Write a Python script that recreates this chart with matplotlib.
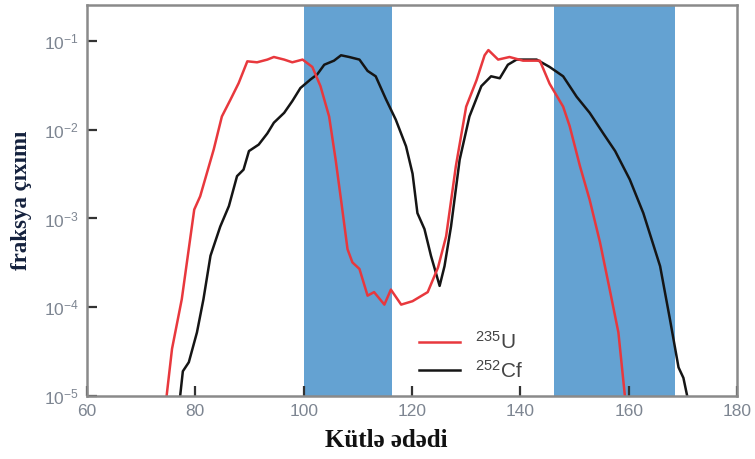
import matplotlib
matplotlib.use("Agg")
import matplotlib.pyplot as plt
from matplotlib.ticker import LogLocator, NullLocator

plt.rcParams["font.family"] = ["Liberation Sans", "DejaVu Sans"]
plt.rcParams["mathtext.fontset"] = "custom"
plt.rcParams["mathtext.rm"] = "Liberation Sans"
plt.rcParams["mathtext.it"] = "Liberation Sans:italic"

# fission fragment yields (mass number, fractional yield)
u235_mass = [74.7, 75.7, 77.5, 79.8, 80.9, 83.4, 84.9, 86.5, 88.0, 89.6,
             91.4, 93.3, 94.5, 96.4, 97.9, 99.8, 101.6, 103.1, 104.7, 105.9,
             106.9, 108.1, 109.0, 110.3, 111.8, 113.0, 114.9, 116.1, 118.0, 120.1,
             122.9, 124.8, 126.3, 128.1, 130.0, 131.9, 133.4, 134.1, 135.9, 138.0,
             140.5, 143.6, 145.4, 147.9, 149.1, 151.0, 152.8, 154.7, 156.5, 158.1,
             159.3]
u235_yield = [1.0e-5, 3.4e-5, 1.23e-4, 1.26e-3, 1.78e-3, 6.0e-3, 1.41e-2, 2.19e-2, 3.35e-2, 5.9e-2,
              5.75e-2, 6.17e-2, 6.6e-2, 6.17e-2, 5.75e-2, 6.17e-2, 5.1e-2, 3.1e-2, 1.41e-2, 4.6e-3,
              1.62e-3, 4.5e-4, 3.2e-4, 2.7e-4, 1.35e-4, 1.48e-4, 1.07e-4, 1.58e-4, 1.07e-4, 1.17e-4,
              1.48e-4, 2.8e-4, 6.3e-4, 3.9e-3, 1.82e-2, 3.6e-2, 6.9e-2, 7.9e-2, 6.17e-2, 6.6e-2,
              6.0e-2, 6.0e-2, 3.3e-2, 1.82e-2, 1.1e-2, 3.9e-3, 1.62e-3, 5.4e-4, 1.58e-4, 5.2e-5,
              1.0e-5]

cf252_mass = [77.2, 77.7, 78.8, 80.3, 81.5, 82.8, 84.6, 86.2, 87.7, 88.9,
              89.9, 91.7, 93.3, 94.5, 96.4, 97.9, 99.4, 101.3, 102.5, 103.8,
              105.6, 106.9, 108.4, 110.3, 111.8, 113.3, 115.2, 117.0, 118.9, 120.1,
              121.0, 122.3, 123.5, 125.1, 126.0, 127.2, 128.8, 130.6, 132.8, 134.6,
              136.2, 137.7, 139.3, 143.0, 145.4, 147.9, 150.4, 152.8, 155.3, 157.5,
              160.2, 162.7, 165.8, 167.6, 169.2, 170.1, 170.8]
cf252_yield = [1.0e-5, 1.9e-5, 2.4e-5, 5.2e-5, 1.23e-4, 3.8e-4, 8.1e-4, 1.38e-3, 3.0e-3, 3.55e-3,
               5.75e-3, 6.8e-3, 9.1e-3, 1.2e-2, 1.55e-2, 2.1e-2, 2.95e-2, 3.7e-2, 4.2e-2, 5.4e-2,
               6.0e-2, 6.9e-2, 6.6e-2, 6.17e-2, 4.6e-2, 4.0e-2, 2.2e-2, 1.3e-2, 6.5e-3, 3.2e-3,
               1.15e-3, 7.6e-4, 3.8e-4, 1.74e-4, 2.9e-4, 8.1e-4, 4.6e-3, 1.41e-2, 3.1e-2, 4.0e-2,
               3.8e-2, 5.4e-2, 6.17e-2, 6.17e-2, 5.1e-2, 4.0e-2, 2.35e-2, 1.55e-2, 9.1e-3, 5.75e-3,
               2.75e-3, 1.15e-3, 2.9e-4, 7.4e-5, 2.1e-5, 1.6e-5, 1.0e-5]

# shaded mass ranges
bands = [(100, 116.3), (146.2, 168.5)]

fig = plt.figure(figsize=(7.55, 4.59), dpi=100)
ax = fig.add_axes([0.1152, 0.1373, 0.861, 0.8517])

for lo, hi in bands:
    ax.axvspan(lo, hi, color="#64a2d2", lw=0, zorder=0)

ax.plot(u235_mass, u235_yield, color="#e8383d", lw=1.8, label=r"$^{235}$U", zorder=3)
ax.plot(cf252_mass, cf252_yield, color="#151515", lw=1.8, label=r"$^{252}$Cf", zorder=2)

ax.set_yscale("log")
ax.set_xlim(60, 180)
ax.set_ylim(1e-5, 0.254)
ax.set_xticks([60, 80, 100, 120, 140, 160, 180])
ax.yaxis.set_major_locator(LogLocator(base=10, numticks=10))
ax.yaxis.set_minor_locator(NullLocator())

for s in ax.spines.values():
    s.set_color("#8a8a8a")
    s.set_linewidth(1.8)
    s.set_zorder(4)
ax.tick_params(which="major", direction="in", length=7, width=1.6, color="#333333",
               labelcolor="#7d8591", labelsize=12.5, pad=6, zorder=5)

ax.set_xlabel("Kütlə ədədi", family=["Liberation Serif"], fontweight="bold",
              fontsize=18, color="#111111")
ax.xaxis.set_label_coords(0.46, -0.085)
ax.set_ylabel("fraksya çıxımı", family=["Liberation Serif"], fontweight="bold",
              fontsize=16.5, color="#14213d")
ax.yaxis.set_label_coords(-0.085, 0.5)

ax.legend(loc="lower left", bbox_to_anchor=(0.488, 0.0), frameon=False,
          fontsize=15, handlelength=2.0, labelcolor="#444444", borderaxespad=0.3,
          labelspacing=0.3, handletextpad=0.7)

fig.savefig("out.png", dpi=100)
